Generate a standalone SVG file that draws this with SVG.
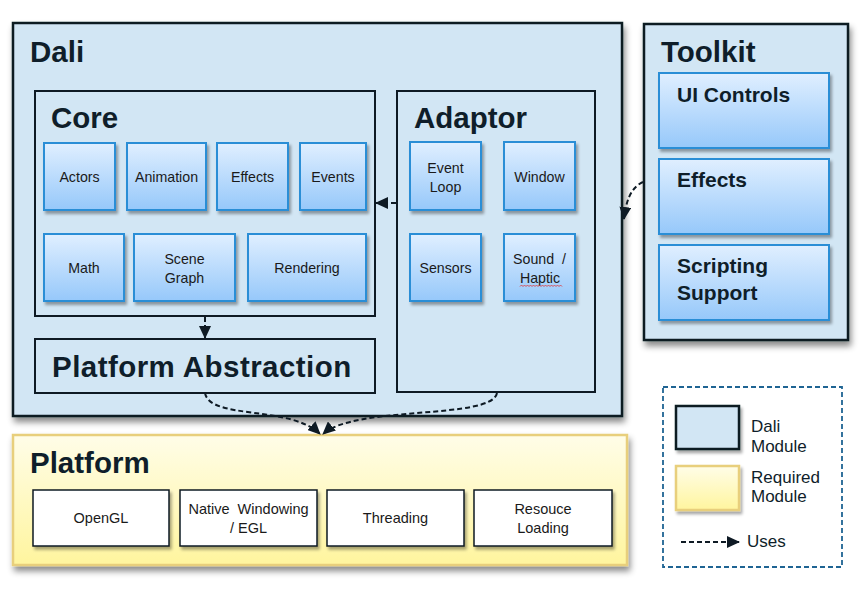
<svg xmlns="http://www.w3.org/2000/svg" width="864" height="593" viewBox="0 0 864 593">
<defs>
  <linearGradient id="gBlue" x1="0" y1="0" x2="0" y2="1">
    <stop offset="0" stop-color="#E0EFFF"/>
    <stop offset="1" stop-color="#96C8FA"/>
  </linearGradient>
  <linearGradient id="gYellow" x1="0" y1="0" x2="0" y2="1">
    <stop offset="0" stop-color="#FFFDE8"/>
    <stop offset="1" stop-color="#FFF59E"/>
  </linearGradient>
  <filter id="shBig" x="-5%" y="-5%" width="115%" height="120%">
    <feDropShadow dx="2" dy="5" stdDeviation="3" flood-color="#000" flood-opacity="0.45"/>
  </filter>
  <filter id="shSmall" x="-10%" y="-10%" width="130%" height="130%">
    <feDropShadow dx="2" dy="3" stdDeviation="1.5" flood-color="#000" flood-opacity="0.35"/>
  </filter>
  <marker id="arr" markerUnits="userSpaceOnUse" markerWidth="14" markerHeight="12" refX="12" refY="6" orient="auto">
    <path d="M0,0 L13,6 L0,12 z" fill="#0E1A24"/>
  </marker>
  <style>
    .module { fill: #D2E6F4; stroke: #0E1A24; stroke-width: 2.5; }
    .inner { fill: #D2E6F4; stroke: #0E1A24; stroke-width: 2; }
    .req { fill: url(#gYellow); stroke: #E8CF7C; stroke-width: 2.5; }
    .item { fill: url(#gBlue); stroke: #2B8ED6; stroke-width: 2; }
    .pitem { fill: #FFFFFF; stroke: #0E1A24; stroke-width: 1.5; }
    .title { font-family: "Liberation Sans", Arial, sans-serif; font-weight: bold; font-size: 29.5px; fill: #0F1E2A; }
    .sub { font-family: "Liberation Sans", Arial, sans-serif; font-weight: bold; font-size: 21px; fill: #0F1E2A; }
    .lbl { font-family: "Liberation Sans", Arial, sans-serif; font-size: 14.2px; fill: #1A1A1A; text-anchor: middle; white-space: pre; }
    .plbl { font-family: "Liberation Sans", Arial, sans-serif; font-size: 14.5px; fill: #1A1A1A; text-anchor: middle; white-space: pre; }
    .leg { font-family: "Liberation Sans", Arial, sans-serif; font-size: 17px; fill: #0F1E2A; }
    .conn { fill: none; stroke: #0E1A24; stroke-width: 2; stroke-dasharray: 5,3; }
  </style>
</defs>
<rect width="864" height="593" fill="#FFFFFF"/>

<g id="dali">
  <rect class="module" x="13" y="23" width="609" height="393" filter="url(#shBig)"/>
  <text class="title" x="30" y="62">Dali</text>
</g>

<g id="core">
  <rect class="inner" x="35" y="91" width="340" height="225"/>
  <text class="title" x="51" y="128">Core</text>
</g>
<g id="core-actors"><rect class="item" x="44" y="143" width="71" height="67" filter="url(#shSmall)"/><text class="lbl" x="79.5" y="181.5">Actors</text></g>
<g id="core-animation"><rect class="item" x="127" y="143" width="79" height="67" filter="url(#shSmall)"/><text class="lbl" x="166.5" y="181.5">Animation</text></g>
<g id="core-effects"><rect class="item" x="217" y="143" width="71" height="67" filter="url(#shSmall)"/><text class="lbl" x="252.5" y="181.5">Effects</text></g>
<g id="core-events"><rect class="item" x="300" y="143" width="66" height="67" filter="url(#shSmall)"/><text class="lbl" x="333" y="181.5">Events</text></g>
<g id="core-math"><rect class="item" x="44" y="234" width="80" height="67" filter="url(#shSmall)"/><text class="lbl" x="84" y="273">Math</text></g>
<g id="core-scenegraph"><rect class="item" x="134" y="234" width="101" height="67" filter="url(#shSmall)"/><text class="lbl" x="184.5" y="264">Scene</text><text class="lbl" x="184.5" y="283">Graph</text></g>
<g id="core-rendering"><rect class="item" x="248" y="234" width="118" height="67" filter="url(#shSmall)"/><text class="lbl" x="307" y="273">Rendering</text></g>

<g id="platform-abstraction">
  <rect class="inner" x="35" y="339" width="340" height="54"/>
  <text class="title" x="52" y="377" letter-spacing="0.45">Platform Abstraction</text>
</g>

<g id="adaptor">
  <rect class="inner" x="397" y="91" width="198" height="301"/>
  <text class="title" x="414" y="128">Adaptor</text>
</g>
<g id="adaptor-eventloop"><rect class="item" x="410" y="142" width="71" height="68" filter="url(#shSmall)"/><text class="lbl" x="445.5" y="173">Event</text><text class="lbl" x="445.5" y="192">Loop</text></g>
<g id="adaptor-window"><rect class="item" x="504" y="142" width="71" height="68" filter="url(#shSmall)"/><text class="lbl" x="539.5" y="182">Window</text></g>
<g id="adaptor-sensors"><rect class="item" x="410" y="234" width="71" height="67" filter="url(#shSmall)"/><text class="lbl" x="445.5" y="273">Sensors</text></g>
<g id="adaptor-sound"><rect class="item" x="504" y="234" width="71" height="67" filter="url(#shSmall)"/><text class="lbl" x="539.5" y="264">Sound  /</text><text class="lbl" x="540" y="283">Haptic</text>
  <path d="M520,286.5 l1.5,-1.5 l1.5,1.5 l1.5,-1.5 l1.5,1.5 l1.5,-1.5 l1.5,1.5 l1.5,-1.5 l1.5,1.5 l1.5,-1.5 l1.5,1.5 l1.5,-1.5 l1.5,1.5 l1.5,-1.5 l1.5,1.5 l1.5,-1.5 l1.5,1.5 l1.5,-1.5 l1.5,1.5 l1.5,-1.5 l1.5,1.5 l1.5,-1.5 l1.5,1.5 l1.5,-1.5 l1.5,1.5 l1.5,-1.5 l1.5,1.5 l1.5,-1.5 l1.5,1.5" fill="none" stroke="#E03030" stroke-width="0.8"/>
</g>

<g id="toolkit">
  <rect class="module" x="644" y="24" width="204" height="316" filter="url(#shBig)"/>
  <text class="title" x="661" y="62">Toolkit</text>
</g>
<g id="toolkit-uicontrols"><rect class="item" x="659" y="73" width="170" height="75" filter="url(#shSmall)"/><text class="sub" x="677" y="102">UI Controls</text></g>
<g id="toolkit-effects"><rect class="item" x="659" y="159" width="170" height="75" filter="url(#shSmall)"/><text class="sub" x="677" y="187">Effects</text></g>
<g id="toolkit-scripting"><rect class="item" x="659" y="245" width="170" height="75" filter="url(#shSmall)"/><text class="sub" x="677" y="273">Scripting</text><text class="sub" x="677" y="300">Support</text></g>

<g id="platform">
  <rect class="req" x="13" y="435" width="614" height="130" filter="url(#shBig)"/>
  <text class="title" x="30" y="473">Platform</text>
</g>
<g id="platform-opengl"><rect class="pitem" x="33" y="490" width="136" height="56" filter="url(#shSmall)"/><text class="plbl" x="101" y="523">OpenGL</text></g>
<g id="platform-windowing"><rect class="pitem" x="180" y="490" width="137" height="56" filter="url(#shSmall)"/><text class="plbl" x="248.5" y="514">Native  Windowing</text><text class="plbl" x="248.5" y="533">/ EGL</text></g>
<g id="platform-threading"><rect class="pitem" x="327" y="490" width="137" height="56" filter="url(#shSmall)"/><text class="plbl" x="395.5" y="523">Threading</text></g>
<g id="platform-resource"><rect class="pitem" x="474" y="490" width="138" height="56" filter="url(#shSmall)"/><text class="plbl" x="543" y="514">Resouce</text><text class="plbl" x="543" y="533">Loading</text></g>

<g id="legend">
  <rect x="663" y="387" width="179" height="180" fill="none" stroke="#1F6493" stroke-width="1.8" stroke-dasharray="5,3"/>
  <rect class="module" x="676" y="406" width="63" height="43" stroke-width="2" filter="url(#shSmall)"/>
  <text class="leg" x="751" y="432">Dali</text>
  <text class="leg" x="751" y="452">Module</text>
  <rect class="req" x="676" y="466" width="63" height="44" stroke-width="2" filter="url(#shSmall)"/>
  <text class="leg" x="751" y="483">Required</text>
  <text class="leg" x="751" y="502">Module</text>
  <line class="conn" x1="681" y1="542" x2="739" y2="542" marker-end="url(#arr)"/>
  <text class="leg" x="747" y="547">Uses</text>
</g>

<g id="connectors">
  <line class="conn" x1="205" y1="317" x2="205" y2="338" marker-end="url(#arr)"/>
  <line class="conn" x1="396" y1="203" x2="376" y2="203" marker-end="url(#arr)"/>
  <path class="conn" d="M643,182 C630,188 626,202 624,219" marker-end="url(#arr)"/>
  <path class="conn" d="M205,393 C210,420 290,405 320,434" marker-end="url(#arr)"/>
  <path class="conn" d="M497,393 C492,420 355,405 323,434" marker-end="url(#arr)"/>
</g>
</svg>
